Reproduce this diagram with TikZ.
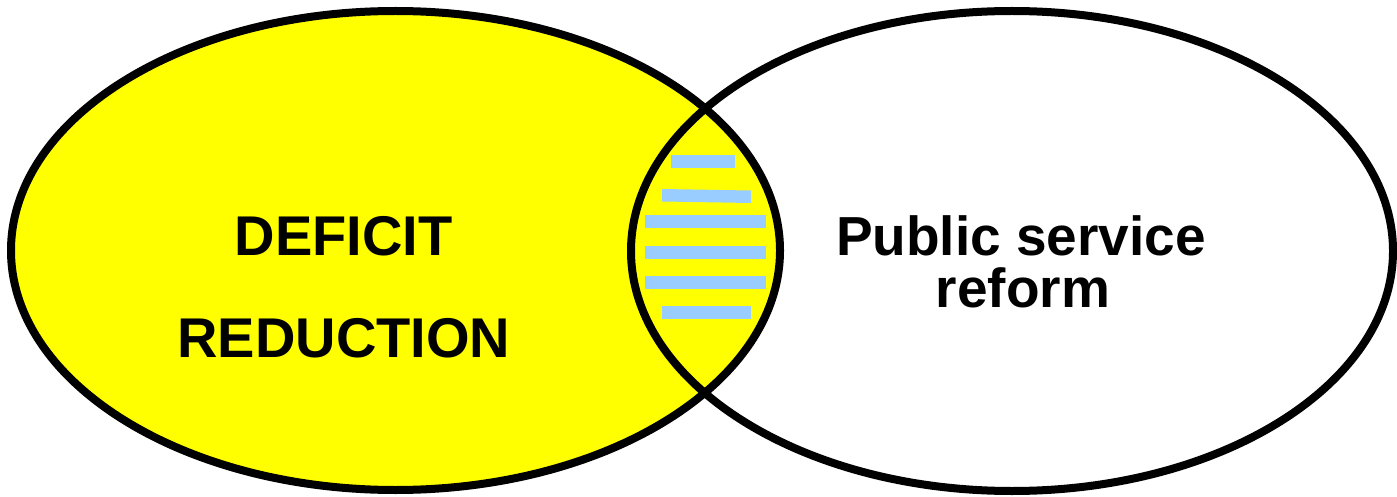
\documentclass[tikz,border=0pt]{standalone}
\usepackage{fontspec}
\setmainfont{Liberation Sans}
\definecolor{vyellow}{HTML}{FFFF00}
\definecolor{stripeblue}{HTML}{99CCFF}
\begin{document}
\begin{tikzpicture}[x=1pt,y=-1pt,
  ring/.style={line width=8pt, draw=black},
  stripe/.style={fill=stripeblue, draw=none},
  lblA/.style={font=\fontsize{56}{60}\selectfont\bfseries, anchor=base, inner sep=0pt},
  lblB/.style={font=\fontsize{55}{58}\selectfont\bfseries, anchor=base, inner sep=0pt}]
\useasboundingbox (0,0) rectangle (1397,497);
\fill[white] (0,0) rectangle (1397,497);
% left ellipse (filled)
\draw[ring, fill=vyellow] (395.5,250.5) ellipse [x radius=384.5pt, y radius=239.5pt];
% stripes in the overlap
\fill[stripe] (671,155) rectangle (735,168);
\fill[stripe] (662,189) -- (751,190.5) -- (751,203) -- (662,201.5) -- cycle;
\fill[stripe] (645,215) rectangle (766,228);
\fill[stripe] (645,246) rectangle (766,259);
\fill[stripe] (645,276) rectangle (766,289);
\fill[stripe] (662,306) rectangle (751,319);
% right ellipse (outline only)
\draw[ring] (1012,251) ellipse [x radius=381pt, y radius=240pt];
% labels
\node[lblA] (def) at (343.5,255) {DEFICIT};
\node[lblA] (red) at (344,357) {REDUCTION};
\node[lblB] (pub) at (1021,255) {Public service};
\node[lblB] (ref) at (1023,307) {reform};
\end{tikzpicture}
\end{document}
